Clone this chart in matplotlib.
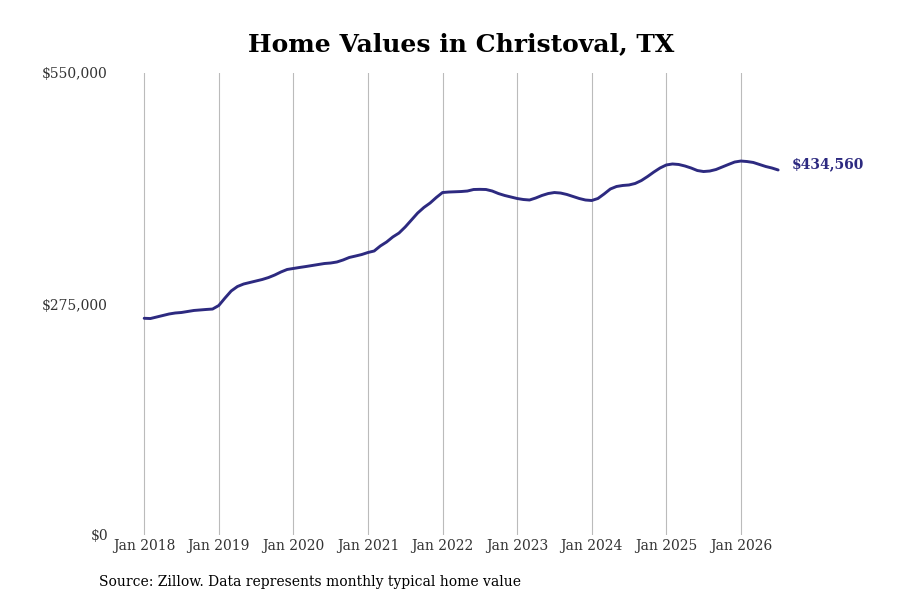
import matplotlib
matplotlib.use("Agg")
import matplotlib.pyplot as plt
from matplotlib.ticker import FuncFormatter

plt.rcParams['font.family'] = ['DejaVu Serif']

# monthly typical home value, Jan 2018 .. Jul 2026 (thousands of $)
values = [
    258.0, 257.7, 259.5, 261.3, 263.1, 264.3, 264.9, 266.1, 267.3, 267.9, 268.5, 269.0,  # 2018
    273.2, 282.1, 290.5, 295.8, 298.8, 300.6, 302.4, 304.2, 306.5, 309.5, 313.1, 316.1,  # 2019
    317.3, 318.5, 319.6, 320.8, 322.0, 323.2, 323.8, 325.0, 327.4, 330.4, 332.1, 333.9,  # 2020
    336.3, 338.1, 344.1, 348.8, 354.8, 359.5, 366.7, 375.0, 383.3, 389.9, 395.2, 401.8,  # 2021
    407.7, 408.3, 408.6, 408.9, 409.5, 411.3, 411.5, 411.3, 409.5, 406.5, 404.2, 402.4,  # 2022
    400.6, 399.4, 398.8, 401.2, 404.2, 406.5, 407.7, 407.1, 405.4, 403.0, 400.6, 398.8,  # 2023
    398.2, 400.6, 406.0, 411.9, 414.9, 416.1, 416.7, 418.5, 422.0, 426.8, 432.1, 436.9,  # 2024
    440.5, 441.7, 441.1, 439.3, 436.9, 433.9, 432.7, 433.3, 435.1, 438.1, 441.1, 444.0,  # 2025
    445.2, 444.6, 443.5, 441.1, 438.7, 436.9, 434.56,                                    # 2026
]
values = [v * 1000 for v in values]
months = list(range(len(values)))

years = list(range(2018, 2027))
year_ticks = [(y - 2018) * 12 for y in years]
year_labels = ["Jan %d" % y for y in years]
y_ticks = [0, 275000, 550000]

line_color = '#2d2a80'

fig = plt.figure(figsize=(9, 6), dpi=100)
ax = fig.add_axes([110 / 900, 65 / 600, 670 / 900, 462 / 600])

ax.plot(months, values, color=line_color, linewidth=2.1, solid_capstyle='round')

ax.set_xlim(-5.5, 102.3)
ax.set_ylim(0, 550000)
ax.set_xticks(year_ticks)
ax.set_xticklabels(year_labels)
ax.set_yticks(y_ticks)
ax.yaxis.set_major_formatter(FuncFormatter(lambda v, p: "${:,.0f}".format(v)))

ax.grid(axis='x', color='#bbbbbb', linewidth=0.8)
ax.grid(axis='y', visible=False)
for s in ax.spines.values():
    s.set_visible(False)
ax.tick_params(axis='both', length=0, labelsize=10, labelcolor='#333333')
ax.tick_params(axis='x', pad=3)
ax.tick_params(axis='y', pad=1.5)

ax.annotate("${:,.0f}".format(values[-1]), xy=(months[-1], values[-1]),
            xytext=(10, 4), textcoords='offset points', va='center', ha='left',
            fontsize=10, fontweight='bold', color=line_color)

fig.text(461 / 900, 1 - 44 / 600, "Home Values in Christoval, TX",
         ha='center', va='center', fontsize=18, fontweight='bold')
fig.text(99 / 900, 1 - 582 / 600, "Source: Zillow. Data represents monthly typical home value",
         ha='left', va='center', fontsize=10)

fig.savefig("out.png", dpi=100)
